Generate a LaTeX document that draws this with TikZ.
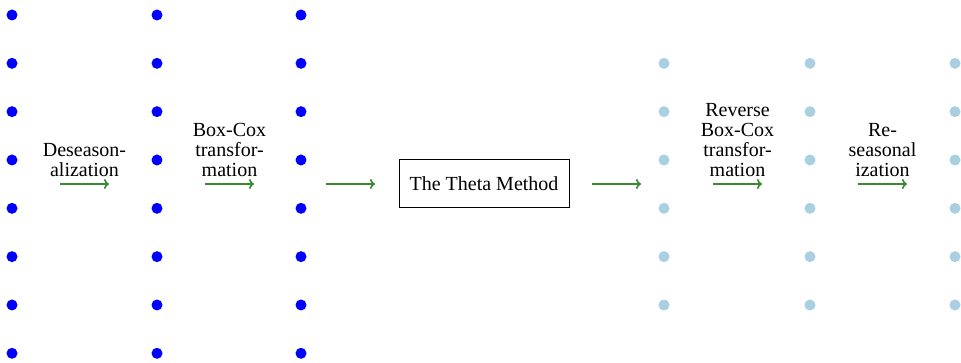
\documentclass[tikz,border=0pt]{standalone}
\usepackage{fontspec}
\setmainfont{Liberation Serif}
\usetikzlibrary{arrows.meta}
\definecolor{arrowgreen}{RGB}{58,138,52}
\definecolor{paleblue}{RGB}{170,207,224}
\begin{document}
\begin{tikzpicture}[x=1pt,y=-1pt,
  dotin/.style={circle,fill=blue,inner sep=0pt,minimum size=11pt},
  dotout/.style={circle,fill=paleblue,inner sep=0pt,minimum size=11pt},
  flow/.style={draw=arrowgreen,line width=1.7pt,-{To[length=5pt,width=10pt]}},
  steplabel/.style={font=\fontsize{20}{20}\selectfont,align=center,inner sep=0pt,anchor=south},
  method/.style={draw,line width=1pt,font=\fontsize{20}{20}\selectfont,
    minimum width=170pt,minimum height=48pt,inner sep=0pt}]
  \useasboundingbox (0,0) rectangle (961,363);

  % input series: three columns of eight points
  \foreach \c/\x in {1/12,2/157,3/301}
    \foreach \r in {1,...,8}
      \node[dotin] (in\c-\r) at (\x,{15+48.33*(\r-1)}) {};

  % output series: three columns of six points
  \foreach \c/\x in {1/664,2/810,3/955}
    \foreach \r in {2,...,7}
      \node[dotout] (out\c-\r) at (\x,{15+48.33*(\r-1)}) {};

  % the forecasting model
  \node[method] (theta) at (484,184) {The Theta Method};

  % arrow end points
  \coordinate (a1s) at (60,184);  \coordinate (a1e) at (109,184);
  \coordinate (a2s) at (205,184); \coordinate (a2e) at (254,184);
  \coordinate (a3s) at (326,184); \coordinate (a3e) at (375,184);
  \coordinate (a4s) at (592,184); \coordinate (a4e) at (641,184);
  \coordinate (a5s) at (713,184); \coordinate (a5e) at (762,184);
  \coordinate (a6s) at (858,184); \coordinate (a6e) at (907,184);

  \foreach \i in {1,...,6}
    \draw[flow] (a\i s) -- (a\i e);

  % step labels
  \node[steplabel] (l1) at (84.5,177) {Deseason-\\alization};
  \node[steplabel] (l2) at (229.5,177) {Box-Cox\\transfor-\\mation};
  \node[steplabel] (l5) at (737.5,177) {Reverse\\Box-Cox\\transfor-\\mation};
  \node[steplabel] (l6) at (882.5,177) {Re-\\seasonal\\ization};
\end{tikzpicture}
\end{document}
